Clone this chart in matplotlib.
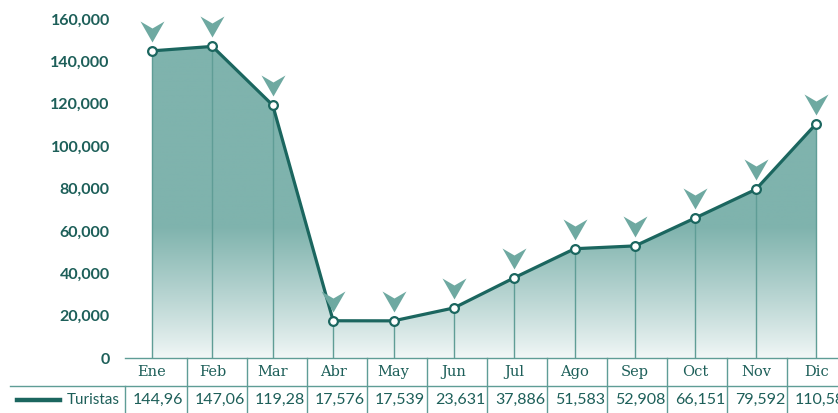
import numpy as np
import matplotlib
matplotlib.use("Agg")
import matplotlib.pyplot as plt
from matplotlib.path import Path
from matplotlib.colors import to_rgb

# Monthly tourist arrivals
meses = ["Ene", "Feb", "Mar", "Abr", "May", "Jun", "Jul", "Ago", "Sep", "Oct", "Nov", "Dic"]
turistas = [144960, 147060, 119280, 17576, 17539, 23631, 37886, 51583, 52908, 66151, 79592, 110580]
y_ticks = [0, 20000, 40000, 60000, 80000, 100000, 120000, 140000, 160000]
serie = "Turistas"

TEXT = "#1d5f59"
LINE = "#1b665f"
FILL = "#7fb3ad"
CHEV = "#6ea9a1"
GRID = "#5f9d96"

W, H = 838, 413
fig = plt.figure(figsize=(W / 100, H / 100), dpi=100)
# axes box in pixels: left 125, right 838, top 19, bottom 358
ax = fig.add_axes([125 / W, (H - 358) / H, (W - 125) / W, 339 / H])

x = np.arange(len(meses))
ax.set_xlim(-0.447, 11.36)
ax.set_ylim(0, 160000)

# gradient area under the line
poly = ax.fill_between(x, turistas, 0, color="none", lw=0)
yy = np.linspace(0, 160000, 400)
t = np.clip(yy / 62000, 0, 1) ** 0.9
top = np.array(to_rgb(FILL))
bot = np.array([0.95, 0.97, 0.97])
grad = bot + (top - bot) * t[:, None]
img = ax.imshow(np.repeat(grad[:, None, :], 2, axis=1), extent=[-0.447, 11.36, 0, 160000],
                origin="lower", aspect="auto", zorder=1)
img.set_clip_path(poly.get_paths()[0], ax.transData)

# drop lines
ax.vlines(x, 0, turistas, color=GRID, lw=1, zorder=2)

# main line with hollow markers
ax.plot(x, turistas, color=LINE, lw=2.3, zorder=3, marker="o", ms=6.3,
        mfc="white", mec=LINE, mew=1.6)

# chevrons above each point (vertices in pixels relative to the point)
chev = Path([(0, 9), (-12, 30), (0, 23), (12, 30), (0, 9)],
            [Path.MOVETO, Path.LINETO, Path.LINETO, Path.LINETO, Path.CLOSEPOLY])
ax.plot(x, turistas, ls="none", marker=chev, ms=2 * 30 * 72 / 100,
        mfc=CHEV, mec="none", zorder=4, clip_on=False)

for s in ["top", "right", "left"]:
    ax.spines[s].set_visible(False)
ax.spines["bottom"].set_color(GRID)
ax.spines["bottom"].set_linewidth(1)
ax.set_xticks([])
ax.set_yticks(y_ticks)
ax.set_yticklabels([f"{v:,}" for v in y_ticks], fontfamily="Lato", fontweight="bold",
                   fontsize=11.5, color=TEXT)
ax.tick_params(axis="y", length=0, pad=11)

# data table below the axis, in pixel coordinates of the figure
def fy(py):
    return (H - py) / H

def fx(i):
    return ax.transData.transform((i, 0))[0] / W

# column borders every 60 px starting at 187 px
borders = [187 + 60 * k for k in range(len(meses) - 1)]
fig.add_artist(plt.Line2D([10 / W, 1], [fy(386), fy(386)], color=GRID, lw=1))
for b in borders:
    fig.add_artist(plt.Line2D([b / W, b / W], [fy(358), fy(413)], color=GRID, lw=1))
fig.add_artist(plt.Line2D([125 / W, 125 / W], [fy(386), fy(413)], color=GRID, lw=1))

renderer = fig.canvas.get_renderer()
# the last column runs past the figure edge
edges = [125] + borders + [W + 12]
for i, (m, v) in enumerate(zip(meses, turistas)):
    fig.text(fx(i), fy(372), m, ha="center", va="center", fontfamily="DejaVu Serif",
             fontsize=10.5, color=TEXT)
    left, right = edges[i], edges[i + 1]
    # value labels start at a fixed pad; characters that overflow the cell are dropped
    label = f"{v:,}"
    txt = fig.text((left + 8) / W, fy(400), label, ha="left", va="center",
                   fontfamily="Lato", fontsize=11.5, color=TEXT)
    while txt.get_window_extent(renderer).x1 > right - 1:
        label = label[:-1]
        txt.set_text(label)

fig.add_artist(plt.Line2D([17 / W, 60 / W], [fy(400), fy(400)], color=LINE, lw=3.2))
fig.text(120 / W, fy(400), serie, ha="right", va="center", fontfamily="Lato",
         fontsize=11, color=TEXT)

fig.savefig("out.png", dpi=100)
